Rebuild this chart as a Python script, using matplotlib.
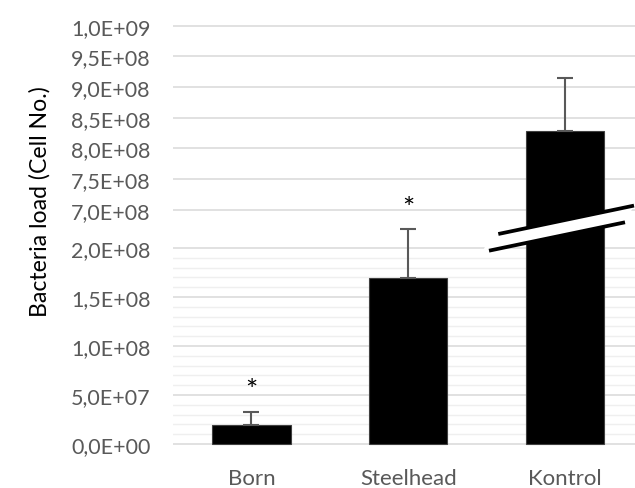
import matplotlib
matplotlib.use("Agg")
import matplotlib.pyplot as plt
from matplotlib.ticker import FuncFormatter, FixedLocator
from matplotlib.patches import Polygon
from matplotlib.lines import Line2D

# ---- data -------------------------------------------------------------
categories = ["Born", "Steelhead", "Kontrol"]
means = [1.9e7, 1.69e8, 8.28e8]
errors = [1.4e7, 5.0e7, 8.7e7]
marked = [True, True, False]          # significance asterisk
lower_ticks = [0, 5e7, 1e8, 1.5e8, 2e8]
upper_ticks = [7e8, 7.5e8, 8e8, 8.5e8, 9e8, 9.5e8, 1e9]
minor_step = 1e7

# ---- layout (pixels) --------------------------------------------------
W, H = 635, 489
FONT = "Lato"
GREY = "#595959"

fig = plt.figure(figsize=(W / 100, H / 100), dpi=100)


def fy(py):
    return 1 - py / H


left_px, right_px = 173, 643.5
split_px = 222          # boundary between the two panels
lo_bottom_px, hi_top_px = 447, 24

# lower panel: 0 at y=445, 2e8 at y=249
lo_zero_px, lo_ref_px, lo_ref_val = 445, 249, 2e8
lo_scale = lo_ref_val / (lo_zero_px - lo_ref_px)
lo_ylim = (-(lo_bottom_px - lo_zero_px) * lo_scale,
           (lo_zero_px - split_px) * lo_scale)

# upper panel: 7e8 at y=210.7, 1e9 at y=26.7
hi_a_px, hi_a_val, hi_b_px, hi_b_val = 210.7, 7e8, 26.7, 1e9
hi_scale = (hi_b_val - hi_a_val) / (hi_a_px - hi_b_px)
hi_ylim = (hi_a_val - (split_px - hi_a_px) * hi_scale,
           hi_b_val + (hi_b_px - hi_top_px) * hi_scale)

ax_w = (right_px - left_px) / W
ax_lo = fig.add_axes([left_px / W, fy(lo_bottom_px), ax_w,
                      (lo_bottom_px - split_px) / H])
ax_hi = fig.add_axes([left_px / W, fy(split_px), ax_w,
                      (split_px - hi_top_px) / H])


def sci_comma(v, pos=None):
    return f"{v:.1E}".replace(".", ",")


x = list(range(len(categories)))
for ax, ticks, ylim in ((ax_lo, lower_ticks, lo_ylim),
                        (ax_hi, upper_ticks, hi_ylim)):
    ax.set_xlim(-0.5, len(categories) - 0.5)
    ax.set_ylim(*ylim)
    ax.patch.set_alpha(0)
    for s in ax.spines.values():
        s.set_visible(False)
    ax.yaxis.set_major_locator(FixedLocator(ticks))
    ax.yaxis.set_major_formatter(FuncFormatter(sci_comma))
    ax.tick_params(axis="y", length=0, pad=16, labelsize=15.5,
                   labelcolor=GREY)
    for lab in ax.get_yticklabels():
        lab.set_fontfamily(FONT)
    ax.grid(axis="y", which="major", color="#d9d9d9", lw=1.1, zorder=0)
    ax.set_axisbelow(True)
    ax.bar(x, means, width=0.5, color="black", edgecolor="#404040",
           lw=0.8, zorder=2)
    ax.errorbar(x, means, yerr=[[0] * len(errors), errors], fmt="none",
                ecolor=GREY, elinewidth=1.5, capsize=5.5, capthick=1.5,
                zorder=3)

# minor grid on the lower panel only, up to its top major tick
minor_vals = []
v = minor_step
while v < lower_ticks[-1]:
    if all(abs(v - t) > 1 for t in lower_ticks):
        minor_vals.append(v)
    v += minor_step
for v in minor_vals:
    ax_lo.axhline(v, color="#efefef", lw=1.0, zorder=0.5)

ax_hi.set_xticks([])
ax_lo.set_xticks(x)
ax_lo.set_xticklabels(categories, fontfamily=FONT, fontsize=16,
                      color=GREY)
ax_lo.tick_params(axis="x", length=0, pad=15.5)

for xi, m, e, flag in zip(x, means, errors, marked):
    if flag:
        ax_lo.annotate("*", xy=(xi, m + e), xytext=(0, 9),
                       textcoords="offset points", ha="center",
                       va="baseline", fontsize=21, fontfamily=FONT,
                       color="black", annotation_clip=False)

fig.text(40 / W, fy(202), "Bacteria load (Cell No.)", rotation=90,
         ha="center", va="center", fontsize=16.6, fontfamily=FONT,
         color="black")

# axis-break marker across the last bar
ul, ur = (498.3, 235.0), (634.0, 206.6)
ll, lr = (489.0, 251.7), (625.0, 223.3)
band = [(ul[0] - 7, ul[1] + 1.5), ur, lr, (ll[0] - 7, ll[1] + 1.5)]
fig.patches.append(Polygon([(px / W, fy(py)) for px, py in band],
                           closed=True, transform=fig.transFigure,
                           facecolor="white", edgecolor="none", zorder=5))
for a, b in ((ul, ur), (ll, lr)):
    fig.lines.append(Line2D([a[0] / W, b[0] / W], [fy(a[1]), fy(b[1])],
                            transform=fig.transFigure, color="black",
                            lw=2.7, solid_capstyle="butt", zorder=6))

fig.savefig("out.png", dpi=100)
